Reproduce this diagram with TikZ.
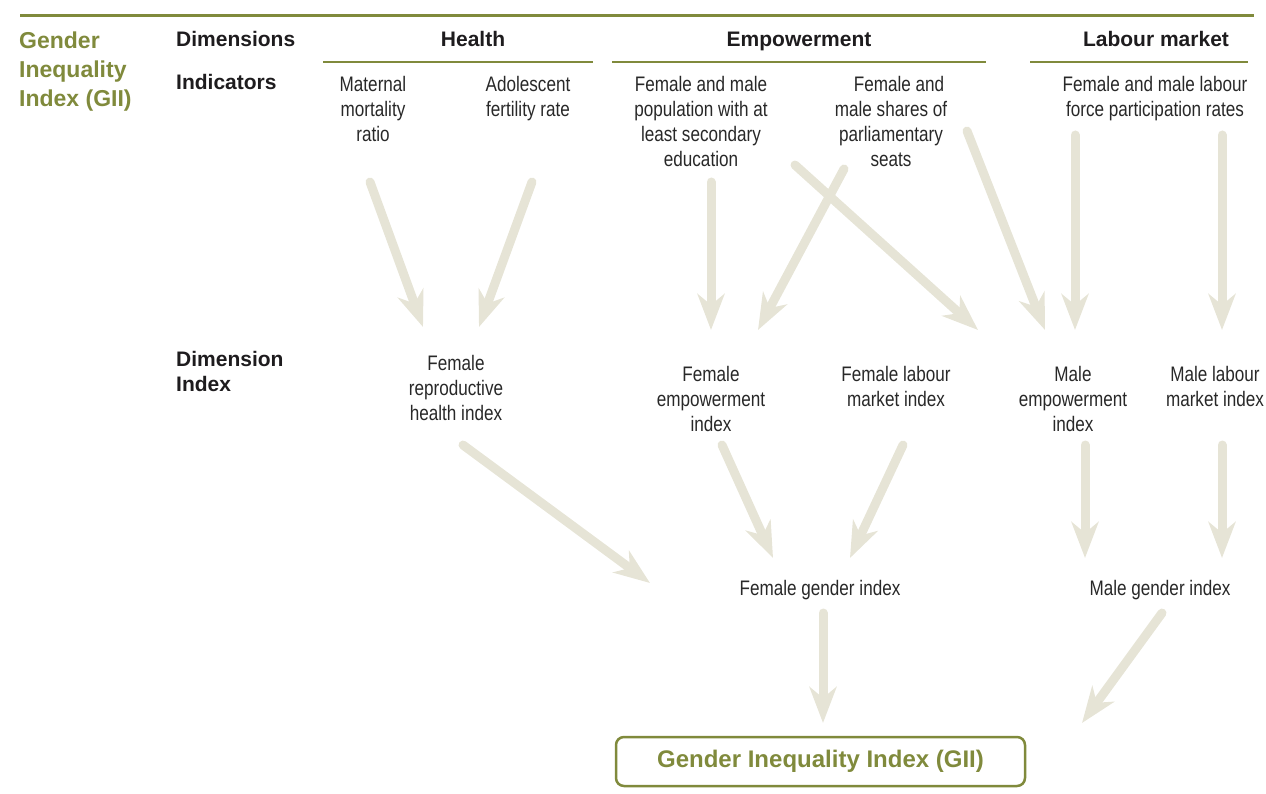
\documentclass[tikz,border=0pt]{standalone}
\usepackage{fontspec}
\setmainfont{Liberation Sans}
\newfontfamily\narrowfont[FakeStretch=0.815]{Liberation Sans}
\usetikzlibrary{arrows.meta}
\definecolor{olive}{RGB}{128,138,60}
\definecolor{arrowc}{RGB}{230,228,214}
\definecolor{txt}{RGB}{40,40,40}
\definecolor{hdr}{RGB}{30,28,30}
\tikzset{
  body/.style={font=\narrowfont\fontsize{21}{25}\selectfont, text=txt, inner sep=0pt, align=center},
  hdrlabel/.style={font=\bfseries\fontsize{21}{26}\selectfont, text=hdr, inner sep=0pt},
  titlelabel/.style={font=\bfseries\fontsize{23}{29}\selectfont, text=olive, inner sep=0pt, align=left},
  rule/.style={olive, line width=2.5pt},
  flow/.style={arrowc, line width=9pt, line cap=round, -{Stealth[length=36pt, width=27pt, inset=11pt]}},
}
\begin{document}
\begin{tikzpicture}[x=1pt, y=-1pt]
\useasboundingbox (0,0) rectangle (1266,794);
% rules
\coordinate (r0a) at (20,16); \coordinate (r0b) at (1254,16);
\draw[olive, line width=3pt] (r0a) -- (r0b);
\coordinate (r1a) at (323,62); \coordinate (r1b) at (593,62);
\coordinate (r2a) at (612,62); \coordinate (r2b) at (986,62);
\coordinate (r3a) at (1030,62); \coordinate (r3b) at (1248,62);
\draw[rule] (r1a) -- (r1b);
\draw[rule] (r2a) -- (r2b);
\draw[rule] (r3a) -- (r3b);

% title and headers
\node[titlelabel, anchor=north west] (title) at (19,32) {Gender\\Inequality\\Index (GII)};
\node[hdrlabel, anchor=base west] (dims) at (176,46.7) {Dimensions};
\node[hdrlabel, anchor=base west] (inds) at (176,90) {Indicators};
\node[hdrlabel, anchor=north west, align=left, font=\bfseries\fontsize{21}{25}\selectfont] (dimidx) at (176,351) {Dimension\\Index};
\node[hdrlabel, anchor=base] (health) at (473,46.7) {Health};
\node[hdrlabel, anchor=base] (empow) at (799,46.7) {Empowerment};
\node[hdrlabel, anchor=base] (labour) at (1156,46.7) {Labour market};

% indicators
\node[body, anchor=north] (mmr) at (373,75.7) {Maternal\\mortality\\ratio};
\node[body, anchor=north] (afr) at (528,75.7) {Adolescent\\fertility rate};
\node[body, anchor=north] (edu) at (701,75.7) {Female and male\\population with at\\least secondary\\education};
\node[body, anchor=north] (parl) at (891,75.7) {\hspace*{16pt}Female and\\male shares of\\parliamentary\\seats};
\node[body, anchor=north] (lfpr) at (1155,75.7) {Female and male labour\\force participation rates};

% dimension indices
\node[body, anchor=north] (frhi) at (456,355) {Female\\reproductive\\health index};
\node[body, anchor=north] (fei) at (711,366) {Female\\empowerment\\index};
\node[body, anchor=north] (flmi) at (896,366) {Female labour\\market index};
\node[body, anchor=north] (mei) at (1073,366) {Male\\empowerment\\index};
\node[body, anchor=north] (mlmi) at (1215,366) {Male labour\\market index};

% gender indices
\node[body, anchor=base] (fgi) at (820,595) {Female gender index};
\node[body, anchor=base] (mgi) at (1160,595) {Male gender index};

% GII box
\node[draw=olive, line width=2.5pt, rounded corners=8pt, minimum width=409pt, minimum height=49pt,
      inner sep=0pt, font=\bfseries\fontsize{24}{28}\selectfont, text=olive] (gii) at (820.5,761.5) {Gender Inequality Index (GII)};

% arrow end points
\coordinate (a1s) at (370,182);  \coordinate (a1e) at (423,327);
\coordinate (a2s) at (532,182);  \coordinate (a2e) at (479,327);
\coordinate (a3s) at (711,182);  \coordinate (a3e) at (711,330);
\coordinate (a4s) at (844,169);  \coordinate (a4e) at (758,330);
\coordinate (a5s) at (795,165);  \coordinate (a5e) at (978,330);
\coordinate (a6s) at (967,131);  \coordinate (a6e) at (1045,330);
\coordinate (a7s) at (1075,135); \coordinate (a7e) at (1075,330);
\coordinate (a8s) at (1222,135); \coordinate (a8e) at (1222,330);
\coordinate (a9s) at (463,445);  \coordinate (a9e) at (650,583);
\coordinate (a10s) at (722,445); \coordinate (a10e) at (773,558);
\coordinate (a11s) at (903,445); \coordinate (a11e) at (850,558);
\coordinate (a12s) at (1085,445); \coordinate (a12e) at (1085,558);
\coordinate (a13s) at (1222,445); \coordinate (a13e) at (1222,558);
\coordinate (a14s) at (823,613); \coordinate (a14e) at (823,723);
\coordinate (a15s) at (1162,613); \coordinate (a15e) at (1082,723);

\foreach \i in {1,...,15} {
  \draw[flow] (a\i s) -- (a\i e);
}
\end{tikzpicture}
\end{document}
